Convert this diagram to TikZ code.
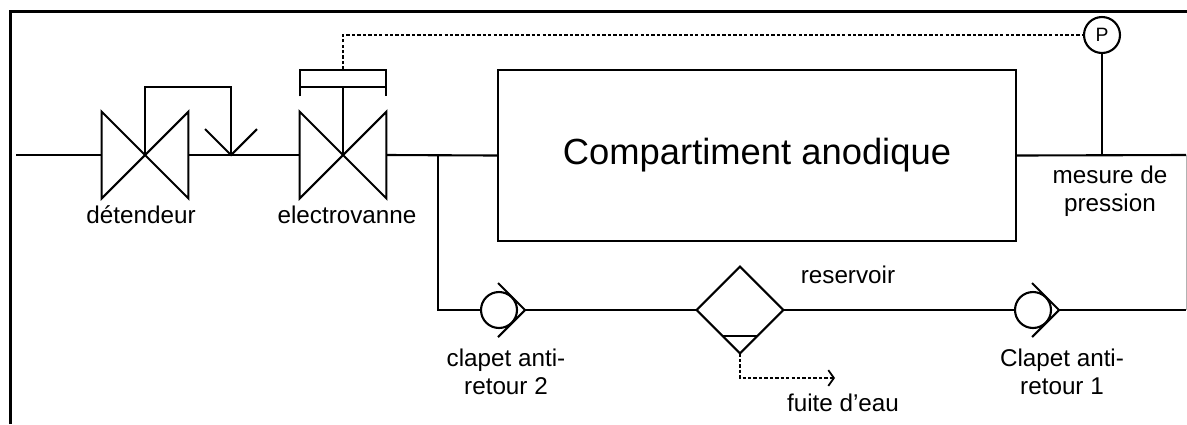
\documentclass[tikz,border=0pt]{standalone}
\usepackage{fontspec}
\setmainfont{Liberation Sans}
\usetikzlibrary{calc}
\usetikzlibrary{arrows.meta}

\begin{document}
\begin{tikzpicture}[x=0.02cm,y=-0.02cm]
    \tikzstyle{every node}=[node distance=1.2cm,inner sep=0pt,align=center,font=\fontsize{13.8}{15.9}\selectfont]
    \tikzstyle{pipe}=[line width=1.2pt]
    \tikzstyle{signal}=[line width=1pt,dash pattern=on 1.9pt off 1.2pt,-{Straight Barb[length=3.2pt,width=9pt,line width=1pt]}]
    \tikzstyle{valve}=[minimum size=1.72cm]
    \tikzstyle{clapet}=[draw,pipe,circle,minimum size=0.72cm]

    \useasboundingbox (0,0) rectangle (1187,424);

    % frame
    \draw[line width=1.9pt] (10.5,424) -- (10.5,11.5) -- (1187,11.5);

    % main line ends
    \coordinate (inlet) at (16,155);
    \coordinate (outlet) at (1186,155);
    \coordinate (backright) at (1186,310);

    % detendeur
    \node[valve] (detendeur) at (145,155) {};
    \node[below of=detendeur,xshift=-0.08cm] {détendeur};
    \coordinate (sense) at (231,155);
    \draw[pipe] (detendeur.north west) -- (detendeur.south east) -- (detendeur.north east) -- (detendeur.south west) -- cycle;
    \draw[pipe] (detendeur.center) -- ($(detendeur.center)+(0,-68)$) -| (sense);
    \draw[pipe] ($(sense)+(-26,-26)$) -- (sense) -- ($(sense)+(26,-26)$);

    % electrovanne
    \node[valve] (electrovanne) at (343,155) {};
    \node[below of=electrovanne,xshift=0.08cm] {electrovanne};
    \draw[pipe] (electrovanne.north west) -- (electrovanne.south east) -- (electrovanne.north east) -- (electrovanne.south west) -- cycle;

    % actuator
    \node[minimum width=1.72cm,minimum height=0.34cm] (actuator) at (343,78.5) {};
    \draw[pipe] ($(actuator.south west)+(0,9)$) -- (actuator.north west) -- (actuator.north east) -- ($(actuator.south east)+(0,9)$);
    \draw[pipe] (actuator.south west) -- (actuator.south east);
    \draw[pipe] (electrovanne.center) -- (actuator.south);

    % anode compartment
    \node[draw,pipe,minimum width=10.36cm,minimum height=3.42cm,font=\fontsize{20.7}{24}\selectfont] (anode) at (757,155.5) {Compartiment anodique};

    % pressure sensor
    \node[draw,pipe,circle,minimum size=0.72cm,font=\fontsize{11}{13}\selectfont] (sensor) at (1102,35) {P};
    \coordinate (tap) at (1102,155);
    \draw[pipe] (sensor) -- (tap);
    \node[below of=tap,xshift=0.16cm,node distance=0.72cm] {mesure de\\pression};
    \draw[signal,-] (actuator.north) |- (sensor.west);

    % main line
    \coordinate (branch) at (438,155);
    \draw[pipe] (inlet) -- (detendeur.west);
    \draw[pipe] (detendeur.east) -- (electrovanne.west);
    \draw[pipe] (electrovanne.east) -- (anode.west);
    \draw[pipe] (anode.east) -- (outlet);

    % clapet 2
    \node[clapet] (clapetB) at (499,310) {};
    \coordinate (clapetBtip) at ($(clapetB.center)+(26,0)$);
    \node[below of=clapetB,xshift=0.14cm,node distance=1.24cm] {clapet anti-\\retour 2};
    \draw[pipe] ($(clapetBtip)+(-27,-27)$) -- (clapetBtip) -- ($(clapetBtip)+(-27,27)$);
    \draw[pipe] (branch) |- (clapetB.west);

    % reservoir
    \node[minimum size=1.72cm] (reservoir) at (740,310) {};
    \draw[pipe] (reservoir.west) -- (reservoir.north) -- (reservoir.east) -- (reservoir.south) -- cycle;
    \draw[pipe] ($(reservoir.south)+(-17,-17)$) -- ($(reservoir.south)+(17,-17)$);
    \node[above of=reservoir,xshift=2.16cm,node distance=0.7cm] {reservoir};
    \draw[pipe] (clapetBtip) -- (reservoir.west);

    % water leak
    \coordinate (leak) at (835,378);
    \draw[signal] (reservoir.south) |- (leak);
    \node[below of=leak,xshift=0.16cm,node distance=0.5cm] {fuite d’eau};

    % clapet 1
    \node[clapet] (clapetA) at (1033,310) {};
    \coordinate (clapetAtip) at ($(clapetA.center)+(26,0)$);
    \node[below of=clapetA,xshift=0.58cm,node distance=1.24cm] {Clapet anti-\\retour 1};
    \draw[pipe] ($(clapetAtip)+(-27,-27)$) -- (clapetAtip) -- ($(clapetAtip)+(-27,27)$);
    \draw[pipe] (reservoir.east) -- (clapetA.west);
    \draw[pipe] (clapetAtip) -- (backright);
    \draw[gray!60,line width=0.5pt] (outlet) -- (backright);

\end{tikzpicture}
\end{document}
